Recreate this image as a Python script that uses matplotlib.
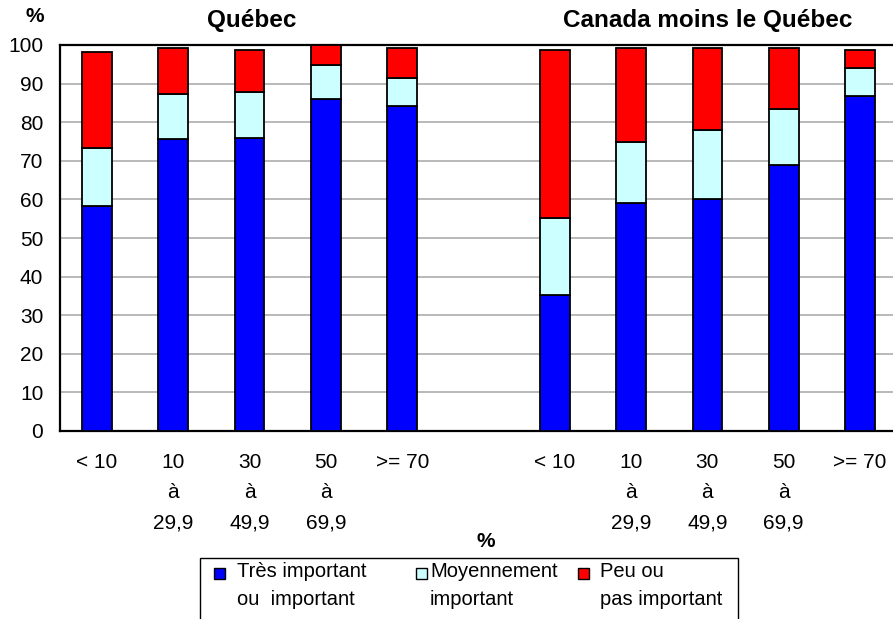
import matplotlib
matplotlib.use("Agg")
import matplotlib.pyplot as plt
from matplotlib.patches import Rectangle
import numpy as np

plt.rcParams['font.family'] = ['Liberation Sans', 'DejaVu Sans']

# tranches de pourcentage, deux régions
categories = ["< 10", "10\nà\n29,9", "30\nà\n49,9", "50\nà\n69,9", ">= 70"]
regions = ["Québec", "Canada moins le Québec"]

# parts lues par niveau d'importance (%)
quebec_tres = [58.4, 75.6, 76.0, 85.9, 84.3]
quebec_moyen = [15.0, 11.8, 11.9, 8.8, 7.2]
quebec_peu = [24.9, 11.9, 10.9, 5.3, 7.8]

canada_tres = [35.2, 59.1, 60.0, 68.8, 86.9]
canada_moyen = [20.1, 15.9, 18.1, 14.5, 7.2]
canada_peu = [43.5, 24.3, 21.2, 16.0, 4.7]

series_names = ["Très important\nou  important", "Moyennement\nimportant", "Peu ou\npas important"]
series_colors = ["#0000FF", "#CCFFFF", "#FF0000"]

W, H = 893, 619
fig = plt.figure(figsize=(W / 100, H / 100), dpi=100)
ax = fig.add_axes([60 / W, 1 - 431 / H, 1 - 60 / W, (431 - 45) / H])

pos_q = np.arange(5)
pos_c = np.arange(5) + 6
width = 0.39

for pos, tres, moyen, peu in [(pos_q, quebec_tres, quebec_moyen, quebec_peu),
                              (pos_c, canada_tres, canada_moyen, canada_peu)]:
    tres = np.array(tres)
    moyen = np.array(moyen)
    peu = np.array(peu)
    ax.bar(pos, tres, width, color=series_colors[0], edgecolor="black", linewidth=1.3, zorder=3)
    ax.bar(pos, moyen, width, bottom=tres, color=series_colors[1], edgecolor="black", linewidth=1.3, zorder=3)
    ax.bar(pos, peu, width, bottom=tres + moyen, color=series_colors[2], edgecolor="black", linewidth=1.3, zorder=3)

ax.set_xlim(-0.485, 10.432)
ax.set_ylim(0, 100)
ax.set_yticks(range(0, 101, 10))
ax.set_xticks(np.concatenate([pos_q, pos_c]))
ax.set_xticklabels(categories * 2, linespacing=1.75, va="top")
ax.tick_params(axis="both", length=0, labelsize=15)
ax.tick_params(axis="x", pad=16)
ax.tick_params(axis="y", pad=12)
ax.grid(axis="y", color="#a6a6a6", linewidth=1.1, zorder=0)

for side in ["left", "bottom", "top"]:
    ax.spines[side].set_linewidth(1.6)
    ax.spines[side].set_color("black")
ax.spines["right"].set_visible(False)

# titres au-dessus de chaque groupe
fig.text(252 / W, 1 - 27 / H, regions[0], fontsize=17.5, fontweight="bold", ha="center", va="baseline")
fig.text(708 / W, 1 - 27 / H, regions[1], fontsize=17.5, fontweight="bold", ha="center", va="baseline")
fig.text(35 / W, 1 - 22 / H, "%", fontsize=15, fontweight="bold", ha="center", va="baseline")
fig.text(486 / W, 1 - 547 / H, "%", fontsize=15, fontweight="bold", ha="center", va="baseline")

# légende dessinée à la main
fig.patches.append(Rectangle((200 / W, -0.05), (738 - 200) / W, 0.05 + 1 - 558 / H,
                             transform=fig.transFigure, facecolor="white",
                             edgecolor="black", linewidth=1.0))
marker_x = [214, 416, 578]
text_x = [237, 430, 600]
for mx, tx, name, col in zip(marker_x, text_x, series_names, series_colors):
    fig.patches.append(Rectangle((mx / W, 1 - 579 / H), 11 / W, 11 / H,
                                 transform=fig.transFigure, facecolor=col,
                                 edgecolor="black", linewidth=1.0))
    fig.text(tx / W, 1 - 562 / H, name, fontsize=14.5, ha="left", va="top", linespacing=1.6)

fig.savefig("out.png", dpi=100)
